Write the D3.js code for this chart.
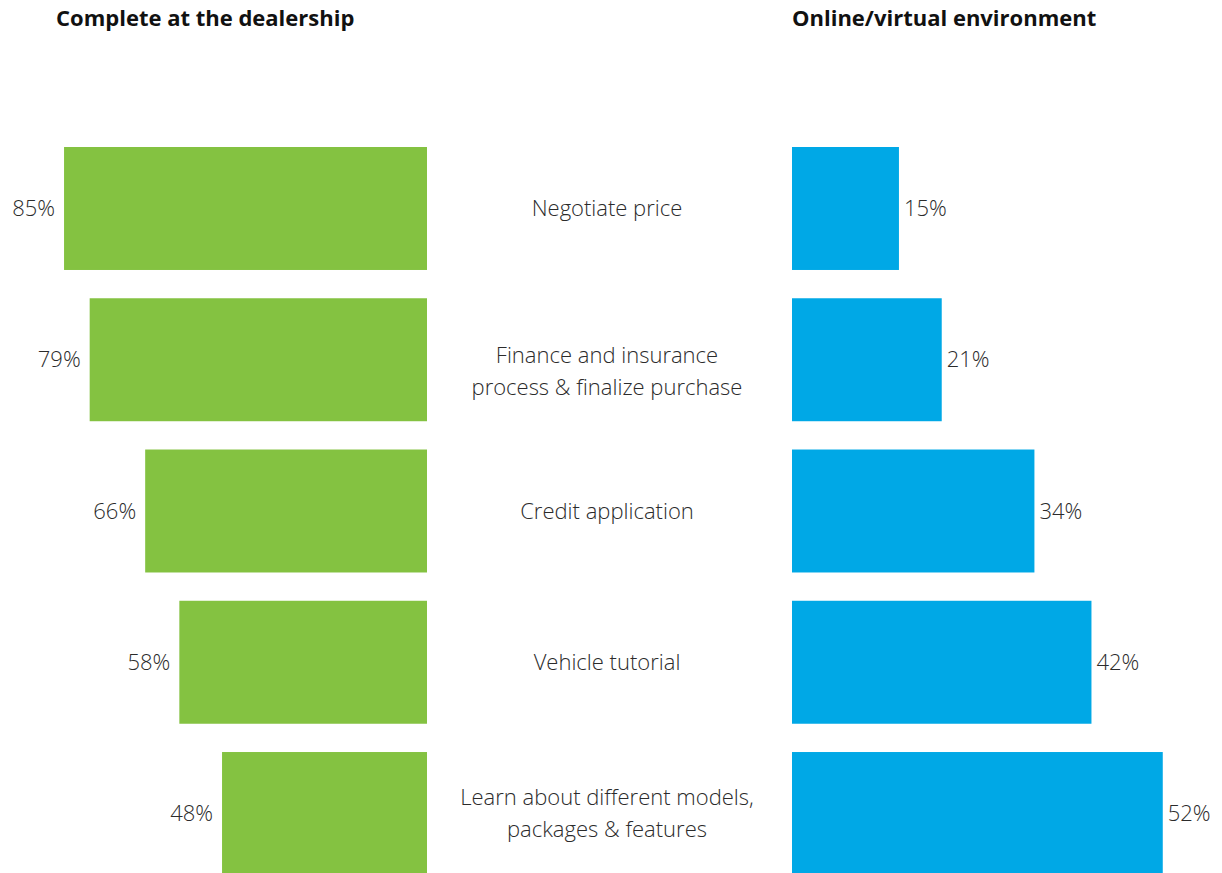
<!DOCTYPE html>
<html>
<head>
<meta charset="utf-8">
<script src="https://cdn.jsdelivr.net/npm/d3@7"></script>
<style>
  html, body { margin: 0; padding: 0; background: #fff; }
  svg { display: block; }
</style>
</head>
<body>
<svg id="chart" width="1222" height="873"></svg>
<script>
// Steps of the vehicle purchase journey
const categories = [
  "Negotiate price",
  "Finance and insurance|process & finalize purchase",
  "Credit application",
  "Vehicle tutorial",
  "Learn about different models,|packages & features"
];
// Share of buyers preferring each channel (%)
const dealershipValues = [85, 79, 66, 58, 48];
const onlineValues = [15, 21, 34, 42, 52];
const panelTitles = ["Complete at the dealership", "Online/virtual environment"];

const green = "#84C241";
const blue = "#00A8E6";
const textColor = "#2b2b2b";
const font = "'Open Sans', 'Noto Sans', sans-serif";
const fs = 22;

const svg = d3.select("#chart");

const y = d3.scaleBand()
  .domain(categories)
  .range([147, 875])
  .paddingInner(0.187)
  .paddingOuter(0);

// Left panel grows leftwards from its baseline
const leftEdge = 427;
const xLeft = d3.scaleLinear().domain([0, 100]).range([0, 427]);
// Right panel grows rightwards
const rightEdge = 792;
const xRight = d3.scaleLinear().domain([0, 100]).range([0, 713]);

// Titles
svg.append("text")
  .attr("x", 56).attr("y", 26)
  .attr("font-family", font).attr("font-weight", 700).attr("font-size", fs)
  .attr("fill", "#111").text(panelTitles[0]);
svg.append("text")
  .attr("x", 792).attr("y", 26)
  .attr("font-family", font).attr("font-weight", 700).attr("font-size", fs)
  .attr("fill", "#111").text(panelTitles[1]);

const rows = categories.map((c, i) => ({ c, left: dealershipValues[i], right: onlineValues[i] }));

// Dealership bars
svg.append("g").selectAll("rect").data(rows).join("rect")
  .attr("x", d => leftEdge - xLeft(d.left))
  .attr("y", d => y(d.c))
  .attr("width", d => xLeft(d.left))
  .attr("height", y.bandwidth())
  .attr("fill", green);

svg.append("g").selectAll("text").data(rows).join("text")
  .attr("x", d => leftEdge - xLeft(d.left) - 9)
  .attr("y", d => y(d.c) + y.bandwidth() / 2)
  .attr("dy", "0.35em")
  .attr("text-anchor", "end")
  .attr("font-family", font).attr("font-weight", 300).attr("font-size", fs)
  .attr("fill", textColor)
  .text(d => d.left + "%");

// Online bars
svg.append("g").selectAll("rect").data(rows).join("rect")
  .attr("x", rightEdge)
  .attr("y", d => y(d.c))
  .attr("width", d => xRight(d.right))
  .attr("height", y.bandwidth())
  .attr("fill", blue);

svg.append("g").selectAll("text").data(rows).join("text")
  .attr("x", d => rightEdge + xRight(d.right) + 5)
  .attr("y", d => y(d.c) + y.bandwidth() / 2)
  .attr("dy", "0.35em")
  .attr("text-anchor", "start")
  .attr("font-family", font).attr("font-weight", 300).attr("font-size", fs)
  .attr("fill", textColor)
  .text(d => d.right + "%");

// Category labels in the middle column
const lineH = 32;
const labelShift = { 1: 12 };
const labels = svg.append("g").selectAll("text").data(rows).join("text")
  .attr("text-anchor", "middle")
  .attr("font-family", font).attr("font-weight", 300).attr("font-size", fs)
  .attr("fill", textColor);

labels.each(function (d, i) {
  const lines = d.c.split("|");
  const cy = y(d.c) + y.bandwidth() / 2 + (labelShift[i] || 0);
  const startY = cy - (lines.length - 1) * lineH / 2;
  d3.select(this).selectAll("tspan").data(lines).join("tspan")
    .attr("x", 607)
    .attr("y", (l, j) => startY + j * lineH)
    .attr("dy", "0.35em")
    .text(l => l);
});
</script>
</body>
</html>
